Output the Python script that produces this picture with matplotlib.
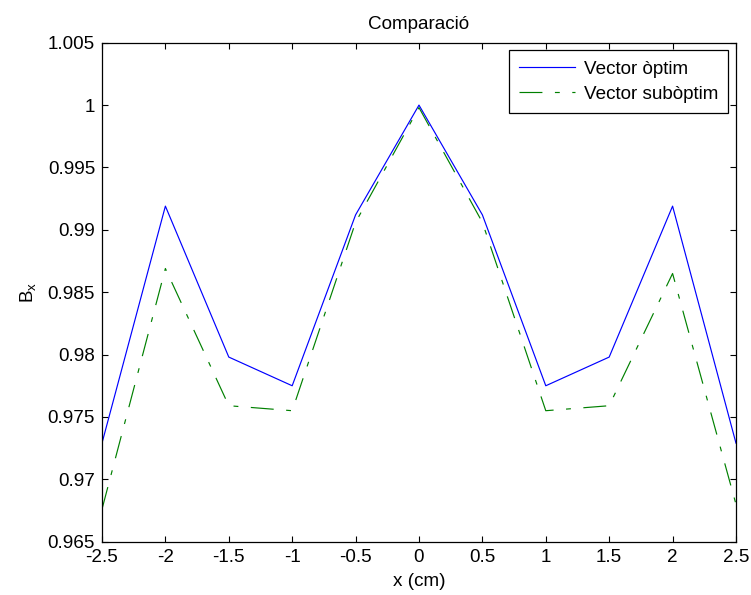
import numpy as np
import matplotlib
matplotlib.use("Agg")
import matplotlib.pyplot as plt

plt.rcParams["font.family"] = ["Liberation Sans", "DejaVu Sans"]
plt.rcParams["lines.scale_dashes"] = False

# Data
x_cm = [-2.5, -2, -1.5, -1, -0.5, 0, 0.5, 1, 1.5, 2, 2.5]
bx_optim = [0.9729, 0.9919, 0.9798, 0.9775, 0.9912, 1.0000,
            0.9912, 0.9775, 0.9798, 0.9919, 0.9729]
bx_suboptim = [0.9676, 0.9869, 0.9759, 0.9755, 0.9906, 0.9998,
               0.9906, 0.9755, 0.9759, 0.9865, 0.9680]

x_ticks = [-2.5, -2, -1.5, -1, -0.5, 0, 0.5, 1, 1.5, 2, 2.5]
x_labels = ["-2.5", "-2", "-1.5", "-1", "-0.5", "0", "0.5", "1", "1.5", "2", "2.5"]
y_ticks = [0.965, 0.97, 0.975, 0.98, 0.985, 0.99, 0.995, 1.0, 1.005]
y_labels = ["0.965", "0.97", "0.975", "0.98", "0.985", "0.99", "0.995", "1", "1.005"]

fs = 13.6

fig = plt.figure(figsize=(7.51, 5.95), dpi=100)
ax = fig.add_axes([0.1358, 0.0896, 0.8442, 0.8386])

ax.plot(x_cm, bx_optim, color="#0000ff", linewidth=0.85, label="Vector òptim")
ax.plot(x_cm, bx_suboptim, color="#008000", linewidth=0.85,
        dashes=(16.5, 9, 3.5, 9), label="Vector subòptim")

ax.set_xlim(-2.5, 2.5)
ax.set_ylim(0.965, 1.005)
ax.set_xticks(x_ticks)
ax.set_xticklabels(x_labels)
ax.set_yticks(y_ticks)
ax.set_yticklabels(y_labels)

ax.tick_params(direction="in", length=4, width=0.8, top=True, right=True,
               labelsize=fs, pad=5)
for sp in ax.spines.values():
    sp.set_linewidth(0.9)

ax.set_title("Comparació", fontsize=fs, pad=10)
ax.set_xlabel("x (cm)", fontsize=fs, labelpad=5)
ax.set_ylabel("B$_\\mathregular{x}$", fontsize=fs, labelpad=6)

leg = ax.legend(loc="upper right", fontsize=fs, fancybox=False, framealpha=1,
                edgecolor="k", handlelength=2.95, borderaxespad=0.4,
                labelspacing=0.4, borderpad=0.55, handletextpad=0.45)
leg.get_frame().set_linewidth(0.9)

fig.savefig("out.png", dpi=100)
